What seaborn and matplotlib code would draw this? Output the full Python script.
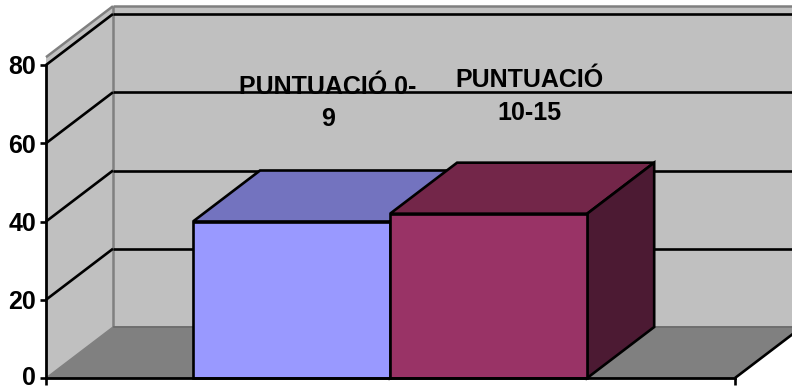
import matplotlib
matplotlib.use("Agg")
import matplotlib.pyplot as plt
import seaborn as sns
import pandas as pd
from matplotlib.patches import Polygon
from matplotlib.transforms import IdentityTransform

categories = ["PUNTUACIÓ 0-\n9", "PUNTUACIÓ\n10-15"]
values = [40, 42]
y_ticks = [0, 20, 40, 60, 80]
front_colors = ["#9999FF", "#993366"]
top_colors = ["#7373BF", "#732649"]
side_colors = ["#7373BF", "#4C1A33"]

W, H, DPI = 792, 390, 100
DX, DY = 67, 51
LW = 1.9

sns.set_theme(style="white")
plt.rcParams["font.family"] = ["Liberation Sans", "DejaVu Sans"]
fig = plt.figure(figsize=(W / DPI, H / DPI), dpi=DPI, facecolor="white")
ax = fig.add_axes([46 / W, (H - 378) / H, (735 - 46) / W, (378 - 65) / H])
ax.patch.set_alpha(0)

df = pd.DataFrame({"cat": categories, "val": values})
sns.barplot(data=df, x="cat", y="val", hue="cat", palette=front_colors, width=1.0,
            dodge=False, legend=False, saturation=1, edgecolor="black", linewidth=LW,
            ax=ax, zorder=5)
ax.set_xlim(-1.246, 2.25)
ax.set_ylim(0, 80)
ax.set_xlabel("")
ax.set_ylabel("")
x0, x1 = ax.get_xlim()

I = IdentityTransform()
def disp(x, y, depth=0.0):
    px, py = ax.transData.transform((x, y))
    return (px + DX * depth, py + DY * depth)

def poly(pts, fc, z, ec="none", lw=0):
    fig.add_artist(Polygon(pts, closed=True, facecolor=fc, edgecolor=ec, linewidth=lw,
                           transform=I, zorder=z, joinstyle="miter"))

def line(p, q, c="black", lw=LW, z=2):
    fig.add_artist(plt.Line2D([p[0], q[0]], [p[1], q[1]], color=c, linewidth=lw,
                              transform=I, zorder=z, solid_capstyle="butt"))

wall_top = 82.0
poly([disp(x0, 0, 1), disp(x1, 0, 1), disp(x1, wall_top, 1), disp(x0, wall_top, 1)], "#C0C0C0", 0.1)
poly([disp(x0, 0), disp(x0, 0, 1), disp(x0, wall_top, 1), disp(x0, wall_top)], "#C0C0C0", 0.1)
poly([disp(x0, 0), disp(x1, 0), disp(x1, 0, 1), disp(x0, 0, 1)], "#808080", 0.2)
line(disp(x0, 0, 1), disp(x0, wall_top, 1), "#808080", 1.8, 0.3)
line(disp(x0, wall_top, 1), disp(x1, wall_top, 1), "#808080", 1.8, 0.3)
line(disp(x0, wall_top), disp(x0, wall_top, 1), "#808080", 1.8, 0.3)
line(disp(x0, 0, 1), disp(x1, 0, 1), "#6E6E6E", 1.4, 0.3)
line(disp(x0, 0), disp(x0, 0, 1), "#808080", 1.0, 0.3)

label_dx = [36.0, 40.5]
label_y = [70.2, 71.95]
for i, cat in enumerate(categories):
    px, py = disp(i, label_y[i])
    fig.text(px + label_dx[i], py, cat, transform=I, ha="center", va="center",
             fontsize=18.0, fontweight="bold", color="black", zorder=0.5, linespacing=1.43)

for t in y_ticks[1:]:
    line(disp(x0, t), disp(x0, t, 1), "black", LW, 1)
    line(disp(x0, t, 1), disp(x1, t, 1), "black", LW, 1)

bars = list(ax.patches)[:len(values)]
for i, b in enumerate(bars):
    l, r, v = b.get_x(), b.get_x() + b.get_width(), b.get_height()
    z = 1.5 + i
    poly([disp(l, v), disp(r, v), disp(r, v, 1), disp(l, v, 1)], top_colors[i], z, "black", LW)
    poly([disp(r, 0), disp(r, v), disp(r, v, 1), disp(r, 0, 1)], side_colors[i], z, "black", LW)
    poly([disp(l, 0), disp(r, 0), disp(r, v), disp(l, v)], front_colors[i], z + 0.1, "black", LW)

line(disp(x1, 0), disp(x1, 0, 1), "black", LW, 1.2)

for s in ["top", "right"]:
    ax.spines[s].set_visible(False)
for s in ["left", "bottom"]:
    ax.spines[s].set_color("black")
    ax.spines[s].set_linewidth(2.0)
    ax.spines[s].set_zorder(6)
ax.set_zorder(10)
for b in bars:
    b.set_visible(False)
ax.set_yticks(y_ticks)
ax.set_xticks([x0 + 0.001, x1 - 0.001])
ax.set_xticklabels(["", ""])
ax.tick_params(axis="y", length=4.6, width=LW, color="black", left=True, pad=2.5, labelsize=18, labelcolor="black")
ax.tick_params(axis="x", length=5.2, width=LW, color="black", bottom=True)
for lab in ax.get_yticklabels():
    lab.set_fontweight("bold")
ax.get_yticklabels()[0].set_verticalalignment("center")

fig.savefig("out.png", dpi=DPI, facecolor="white")
